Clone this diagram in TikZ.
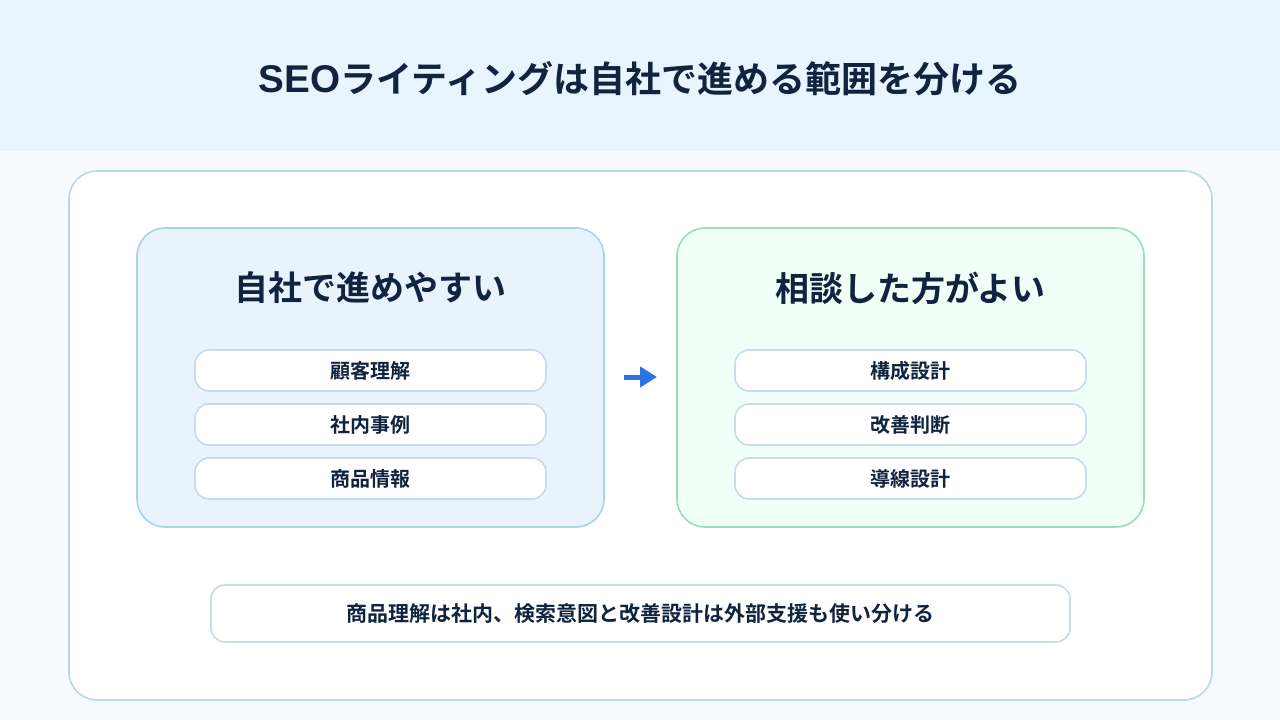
\documentclass[tikz,border=0pt]{standalone}
\usepackage{xcolor}
\usepackage{fontspec}
\usetikzlibrary{arrows.meta}
\setmainfont{Noto Sans CJK JP}[BoldFont={* Bold}]
\newfontfamily\latinhead{Liberation Sans}
\definecolor{pagebg}{HTML}{F7FBFF}
\definecolor{headbg}{HTML}{E8F5FF}
\definecolor{inkdark}{HTML}{10233F}
\definecolor{cardline}{HTML}{B8D8EC}
\definecolor{bluefill}{HTML}{E8F3FE}
\definecolor{blueline}{HTML}{AAD2F0}
\definecolor{greenfill}{HTML}{F0FFF8}
\definecolor{greenline}{HTML}{9ADCBE}
\definecolor{itemline}{HTML}{C8DAEC}
\definecolor{arrowblue}{HTML}{2B74E2}
\tikzset{
  panel/.style={draw, line width=1.2pt, rounded corners=21pt, outer sep=0pt, minimum width=467*0.75pt, minimum height=299*0.75pt},
  panelhead/.style={text=inkdark, font=\bfseries\fontsize{25.5pt}{30pt}\selectfont},
  item/.style={draw=itemline, fill=white, line width=1.2pt, rounded corners=10.5pt, outer sep=0pt, minimum width=351*0.75pt, minimum height=41*0.75pt, text=inkdark, font=\bfseries\fontsize{15pt}{18pt}\selectfont},
}
\begin{document}
\begin{tikzpicture}[x=0.75pt,y=-0.75pt]

% Page and header band
\useasboundingbox (0,0) rectangle (1280,720);
\fill[pagebg] (0,0) rectangle (1280,720);
\fill[headbg] (0,0) rectangle (1280,151);
\node[text=inkdark, font=\bfseries\fontsize{27pt}{34pt}\selectfont] (title) at (640,79) {{\latinhead\fontsize{29pt}{34pt}\selectfont SEO}ライティングは自社で進める範囲を分ける};

% Outer card
\node[draw=cardline, fill=white, line width=1.2pt, rounded corners=21pt, outer sep=0pt, minimum width=1143*0.75pt, minimum height=529*0.75pt] (card) at (640.5,435.5) {};

% Left panel
\node[panel, draw=blueline, fill=bluefill] (selfpanel) at (370.5,377.5) {};
\node[panelhead] (selfhead) at (370.5,288) {自社で進めやすい};
\node[item] (selfa) at (370.5,370.5) {顧客理解};
\node[item] (selfb) at (370.5,424.5) {社内事例};
\node[item] (selfc) at (370.5,478.5) {商品情報};

% Right panel
\node[panel, draw=greenline, fill=greenfill] (askpanel) at (910.5,377.5) {};
\node[panelhead] (askhead) at (910.5,288) {相談した方がよい};
\node[item] (aska) at (910.5,370.5) {構成設計};
\node[item] (askb) at (910.5,424.5) {改善判断};
\node[item] (askc) at (910.5,478.5) {導線設計};

% Arrow between panels
\coordinate (arrowfrom) at (624,377);
\coordinate (arrowto) at (657,377);
\draw[-{Triangle[length=12.75pt,width=15pt]}, arrowblue, line width=3.75pt] (arrowfrom) -- (arrowto);

% Bottom note
\node[item, minimum width=859*0.75pt, minimum height=57*0.75pt, font=\bfseries\fontsize{15.75pt}{19pt}\selectfont] (note) at (640.5,613.5) {商品理解は社内、検索意図と改善設計は外部支援も使い分ける};

\end{tikzpicture}
\end{document}
